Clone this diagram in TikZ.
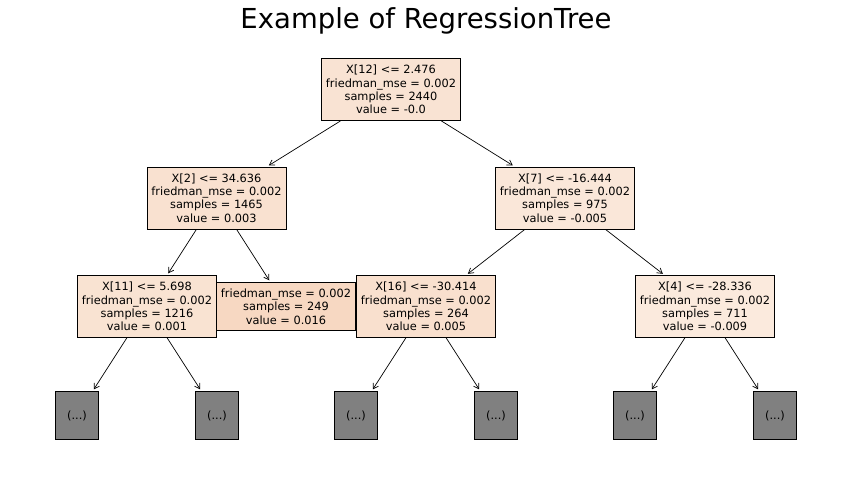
\documentclass[tikz,border=0pt]{standalone}
\usepackage{fontspec}
\setmainfont{DejaVu Sans}
\usetikzlibrary{arrows.meta}
\definecolor{croot}{RGB}{249,227,211}
\definecolor{cxtwo}{RGB}{249,225,208}
\definecolor{cxseven}{RGB}{250,231,217}
\definecolor{cxeleven}{RGB}{249,227,210}
\definecolor{cleaf}{RGB}{247,216,194}
\definecolor{cxsixteen}{RGB}{249,224,206}
\definecolor{cxfour}{RGB}{251,234,221}
\begin{document}
\begin{tikzpicture}[x=1pt, y=-1pt,
    treebox/.style={draw, line width=0.9pt, inner sep=0pt, align=center,
        minimum width=139pt, minimum height=62pt,
        font=\fontsize{11.35}{13.3}\selectfont},
    leafbox/.style={treebox, minimum height=48pt},
    hiddenbox/.style={draw, line width=0.9pt, fill=gray, inner sep=0pt,
        minimum width=43pt, minimum height=48pt,
        font=\fontsize{11.35}{13.3}\selectfont},
    treearrow/.style={-{Straight Barb[length=5pt,width=6pt]}, line width=0.7pt, shorten >=2pt}]
    \useasboundingbox (0,0) rectangle (851,477);
    \node[anchor=base, font=\fontsize{27.5}{33}\selectfont] (title) at (426,28) {Example of RegressionTree};
    \node[treebox, fill=croot] (root) at (391,89.5) {X[12] <= 2.476\\friedman\_mse = 0.002\\samples = 2440\\value = -0.0};
    \node[treebox, fill=cxtwo] (x2) at (216.5,198) {X[2] <= 34.636\\friedman\_mse = 0.002\\samples = 1465\\value = 0.003};
    \node[treebox, fill=cxseven] (x7) at (565,198) {X[7] <= -16.444\\friedman\_mse = 0.002\\samples = 975\\value = -0.005};
    \node[treebox, fill=cxeleven] (x11) at (147,306.5) {X[11] <= 5.698\\friedman\_mse = 0.002\\samples = 1216\\value = 0.001};
    \node[leafbox, fill=cleaf] (leaf) at (286,306.5) {friedman\_mse = 0.002\\samples = 249\\value = 0.016};
    \node[treebox, fill=cxsixteen] (x16) at (426,306.5) {X[16] <= -30.414\\friedman\_mse = 0.002\\samples = 264\\value = 0.005};
    \node[treebox, fill=cxfour] (x4) at (705,306.5) {X[4] <= -28.336\\friedman\_mse = 0.002\\samples = 711\\value = -0.009};
    \node[hiddenbox] (h1) at (77,415.5) {(...)};
    \node[hiddenbox] (h2) at (217,415.5) {(...)};
    \node[hiddenbox] (h3) at (356,415.5) {(...)};
    \node[hiddenbox] (h4) at (496,415.5) {(...)};
    \node[hiddenbox] (h5) at (635,415.5) {(...)};
    \node[hiddenbox] (h6) at (775,415.5) {(...)};
    \path[treearrow] (root) edge (x2);
    \path[treearrow] (root) edge (x7);
    \path[treearrow] (x2) edge (x11);
    \path[treearrow] (x2) edge (leaf);
    \path[treearrow] (x7) edge (x16);
    \path[treearrow] (x7) edge (x4);
    \path[treearrow] (x11) edge (h1);
    \path[treearrow] (x11) edge (h2);
    \path[treearrow] (x16) edge (h3);
    \path[treearrow] (x16) edge (h4);
    \path[treearrow] (x4) edge (h5);
    \path[treearrow] (x4) edge (h6);
\end{tikzpicture}
\end{document}
